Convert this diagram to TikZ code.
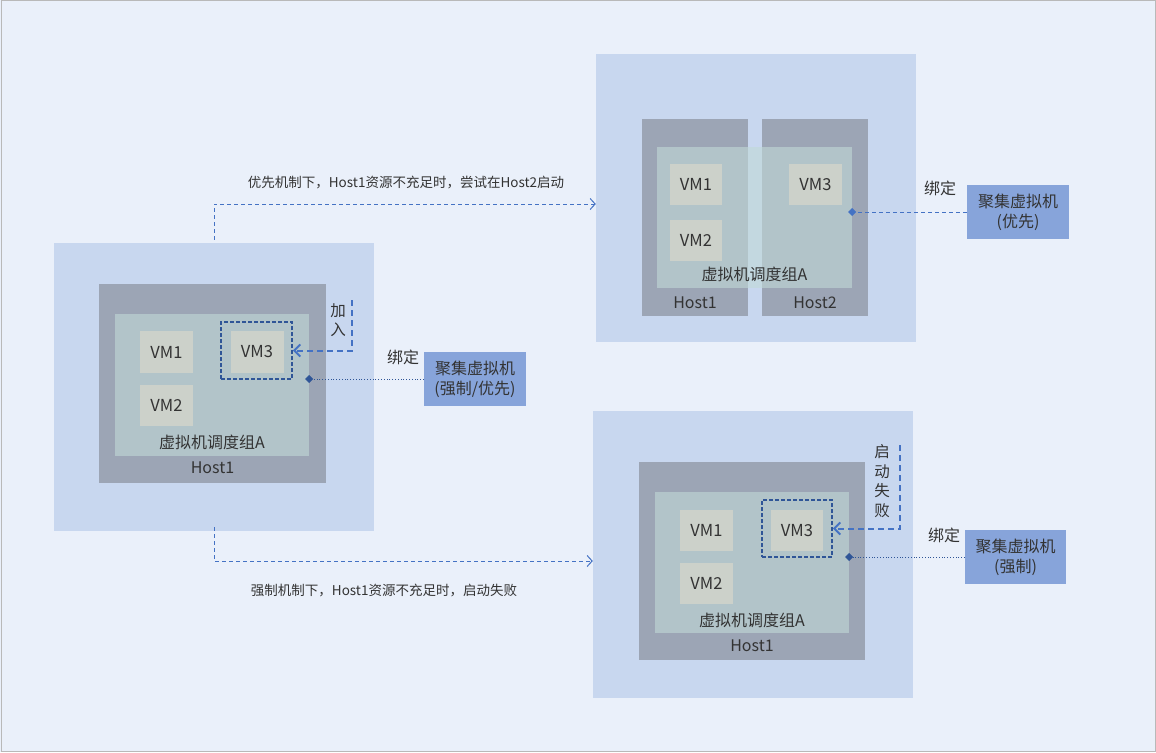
\documentclass[tikz,border=0pt]{standalone}
\usepackage{fontspec}
\setmainfont{Noto Sans CJK SC}
\usepackage{tikz}
\usetikzlibrary{arrows.meta}
\definecolor{bgblue}{HTML}{EAF0FA}
\definecolor{zoneblue}{HTML}{C8D7EF}
\definecolor{hostgray}{HTML}{9CA5B5}
\definecolor{grpgreen}{HTML}{C1D9D7}
\definecolor{vmgray}{HTML}{CCD1CA}
\definecolor{clblue}{HTML}{87A4DA}
\definecolor{lineblue}{HTML}{4472C4}
\definecolor{darkblue}{HTML}{2F5597}
\definecolor{txtgray}{HTML}{333333}
\tikzstyle{zone}=[rectangle, fill=zoneblue, inner sep=0pt, minimum width=320pt, minimum height=288pt]
\tikzstyle{host}=[rectangle, fill=hostgray, inner sep=0pt]
\tikzstyle{grp}=[rectangle, fill=grpgreen, fill opacity=0.61, inner sep=0pt]
\tikzstyle{vm}=[rectangle, fill=vmgray, inner sep=0pt, minimum width=53pt, minimum height=42pt, text=txtgray, font=\fontsize{16.5}{18}\selectfont]
\tikzstyle{sel}=[rectangle, draw=darkblue, line width=1.7pt, dash pattern=on 4pt off 2pt, inner sep=0pt, minimum width=71pt, minimum height=57pt]
\tikzstyle{cluster}=[rectangle, fill=clblue, inner sep=0pt, minimum width=102pt, minimum height=54pt, align=center, text=txtgray, font=\fontsize{16}{20}\selectfont]
\tikzstyle{lbl}=[inner sep=0pt, text=txtgray, font=\fontsize{16}{18}\selectfont]
\tikzstyle{vlbl}=[inner sep=0pt, align=center, text=txtgray, font=\fontsize{15.5}{19.5}\selectfont]
\tikzstyle{flowlbl}=[inner sep=0pt, text=txtgray, font=\fontsize{13.5}{16}\selectfont]
\tikzstyle{flow}=[lineblue, line width=1pt, dash pattern=on 4pt off 3pt, -{Straight Barb[length=5pt,width=11pt]}]
\tikzstyle{joinline}=[lineblue, line width=2pt, dash pattern=on 6pt off 4pt, -{Straight Barb[length=6pt,width=12pt]}]
\tikzstyle{bind}=[darkblue, line width=0.8pt, dotted, -{Diamond[length=8pt,width=8pt]}, shorten >=-4pt]
\tikzstyle{binddash}=[lineblue, line width=1pt, dash pattern=on 4pt off 3pt, -{Diamond[length=8pt,width=8pt]}, shorten >=-4pt]
\newcommand{\vmbox}{\node[vm]}

\begin{document}
\begin{tikzpicture}[x=1pt,y=-1pt]
	\useasboundingbox (0,0) rectangle (1156,752);
	\fill[bgblue] (0,0) rectangle (1156,752);
	\draw[gray!55, line width=1pt] (1,1) rectangle (1155,751);

	\node[zone](lzone) at (214,387) {};
	\node[host, minimum width=227pt, minimum height=199pt](lhost) at (212.5,383.5) {};
	\node[grp, minimum width=194pt, minimum height=142pt](lgrp) at (212,385) {};
	\vmbox(lvm1) at (166.5,352) {VM1};
	\vmbox[minimum height=41pt](lvm2) at (166.5,405.5) {VM2};
	\vmbox(lvm3) at (257,352) {VM3};
	\node[sel](lsel) at (256.5,350.5) {};
	\node[lbl, yshift=14pt](lgrplbl) at (lgrp.south) {虚拟机调度组A};
	\node[lbl, yshift=15pt](lhostlbl) at (lhost.south) {Host1};
	\node[cluster](lcl) at (475,379) {聚集虚拟机\\(强制/优先)};

	\node[zone](tzone) at (756,198) {};
	\node[host, minimum width=106pt, minimum height=197pt](thost1) at (695,217.5) {};
	\node[host, minimum width=106pt, minimum height=197pt](thost2) at (815,217.5) {};
	\node[grp, minimum width=195pt, minimum height=141pt](tgrp) at (754.5,217.5) {};
	\vmbox[minimum width=52pt, minimum height=41pt](tvm1) at (696,184.5) {VM1};
	\vmbox[minimum width=52pt, minimum height=41pt](tvm2) at (696,240.5) {VM2};
	\vmbox[minimum height=41pt](tvm3) at (815.5,184.5) {VM3};
	\node[lbl, yshift=14pt](tgrplbl) at (tgrp.south) {虚拟机调度组A};
	\node[lbl, yshift=13pt](thost1lbl) at (thost1.south) {Host1};
	\node[lbl, yshift=13pt](thost2lbl) at (thost2.south) {Host2};
	\node[cluster](tcl) at (1018,212) {聚集虚拟机\\(优先)};

	\node[zone, minimum height=287pt](bzone) at (753,554.5) {};
	\node[host, minimum width=226pt, minimum height=198pt](bhost) at (752,561) {};
	\node[grp, minimum width=194pt, minimum height=141pt](bgrp) at (752,562.5) {};
	\vmbox[minimum height=41pt](bvm1) at (706.5,530.5) {VM1};
	\vmbox[minimum height=41pt](bvm2) at (706.5,583.5) {VM2};
	\vmbox[minimum width=52pt, minimum height=41pt](bvm3) at (797,530.5) {VM3};
	\node[sel, minimum width=70pt](bsel) at (797,528.5) {};
	\node[lbl, yshift=13pt](bgrplbl) at (bgrp.south) {虚拟机调度组A};
	\node[lbl, yshift=14pt](bhostlbl) at (bhost.south) {Host1};
	\node[cluster, minimum width=101pt](bcl) at (1015.5,557) {聚集虚拟机\\(强制)};

	\draw[flow] ([yshift=3pt]lzone.north) |- ([yshift=-6pt]tzone.west);
	\node[flowlbl](toplbl) at (406,183) {优先机制下，Host1资源不充足时，尝试在Host2启动};
	\draw[flow] ([yshift=4pt]lzone.south) |- ([yshift=-6.5pt]bzone.west);
	\node[flowlbl](botlbl) at (384,591) {强制机制下，Host1资源不充足时，启动失败};

	\coordinate (ljoin) at (352,300);
	\draw[joinline] (ljoin) |- (lsel.east);
	\node[vlbl](ljoinlbl) at (338,320) {加\\入};
	\coordinate (bfail) at (900,445);
	\draw[joinline] (bfail) |- (bsel.east);
	\node[vlbl](bfaillbl) at (882,481) {启\\动\\失\\败};

	\draw[bind] (lcl.west) -- (lcl.west -| lgrp.east);
	\node[lbl](lbindlbl) at (403,357) {绑定};
	\draw[binddash] (tcl.west) -- (tcl.west -| tgrp.east);
	\node[lbl](tbindlbl) at (940,188) {绑定};
	\draw[bind] (bcl.west) -- (bcl.west -| bgrp.east);
	\node[lbl](bbindlbl) at (944,535) {绑定};
\end{tikzpicture}
\end{document}
